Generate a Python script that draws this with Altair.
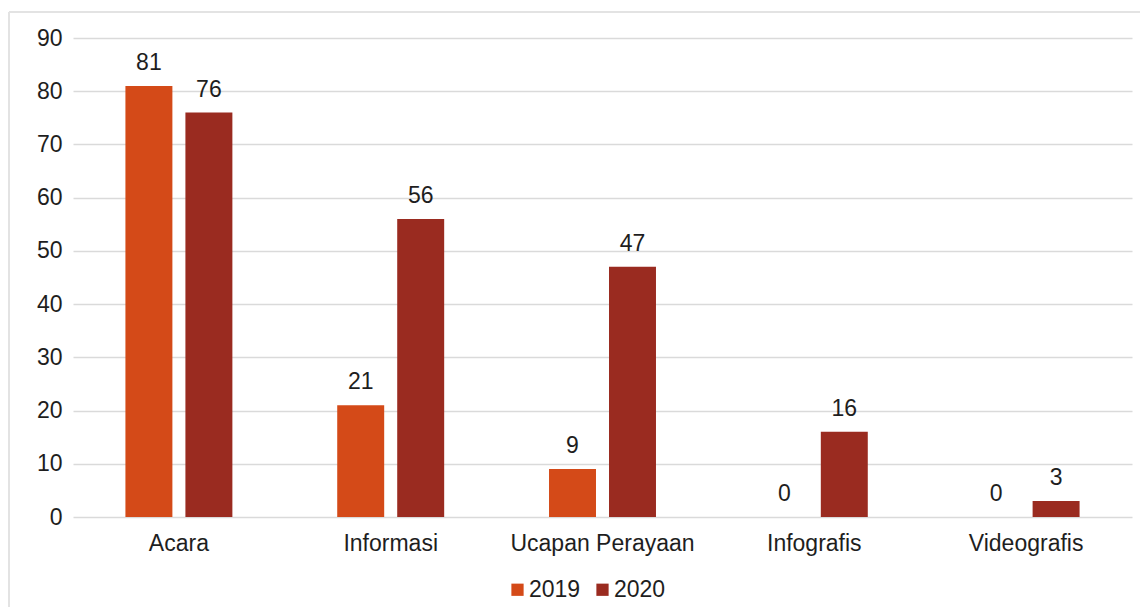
import altair as alt
import pandas as pd

categories = ["Acara", "Informasi", "Ucapan Perayaan", "Infografis", "Videografis"]
years = ["2019", "2020"]
values_2019 = [81, 21, 9, 0, 0]
values_2020 = [76, 56, 47, 16, 3]
colors = ["#D44A18", "#9A2B20"]
y_ticks = [0, 10, 20, 30, 40, 50, 60, 70, 80, 90]

rows = []
for c, a, b in zip(categories, values_2019, values_2020):
    rows.append({"Kategori": c, "Tahun": "2019", "Nilai": a})
    rows.append({"Kategori": c, "Tahun": "2020", "Nilai": b})
df = pd.DataFrame(rows)

FONT = "Liberation Sans"
FS = 23
TXT = "#1E1E1E"

x = alt.X("Kategori:N", sort=categories, title=None,
          scale=alt.Scale(paddingInner=0.495, paddingOuter=0.2475),
          axis=alt.Axis(labelAngle=0, domain=False, ticks=False, labelFontSize=FS,
                        labelColor=TXT, labelPadding=15, labelFont=FONT, labelLimit=0))
xo = alt.XOffset("Tahun:N", sort=years, scale=alt.Scale(paddingInner=0.217, paddingOuter=0))
y = alt.Y("Nilai:Q", title=None,
          scale=alt.Scale(domain=[0, 90], nice=False),
          axis=alt.Axis(values=y_ticks, domain=False, ticks=False, labelFontSize=FS,
                        labelColor=TXT, labelPadding=11, labelFont=FONT,
                        gridColor="#DADADA", gridWidth=1.6))

bars = alt.Chart(df).mark_bar().encode(
    x=x, xOffset=xo, y=y,
    color=alt.Color("Tahun:N", sort=years, scale=alt.Scale(domain=years, range=colors),
                    legend=alt.Legend(title=None, orient="none", legendX=433, legendY=540,
                                      direction="horizontal", symbolType="square",
                                      symbolSize=150, labelFontSize=FS, labelFont=FONT,
                                      labelColor=TXT, columnPadding=10,
                                      labelOffset=0, symbolStrokeWidth=0)),
)

labels = alt.Chart(df).mark_text(baseline="alphabetic", dy=-16, fontSize=FS, font=FONT,
                                 color=TXT).encode(
    x=alt.X("Kategori:N", sort=categories), xOffset=alt.XOffset("Tahun:N", sort=years),
    y="Nilai:Q", text="Nilai:Q")

frame_left = alt.Chart(df).mark_rule(color="#E3E3E3", strokeWidth=2).encode(
    x=alt.value(-64), y=alt.value(-26), y2=alt.value(620))
frame_top = alt.Chart(df).mark_rule(color="#E3E3E3", strokeWidth=2).encode(
    x=alt.value(-64), x2=alt.value(1090), y=alt.value(-26))

chart = alt.layer(bars, labels, frame_left, frame_top).properties(
    width=1059, height=479,
    autosize=alt.AutoSizeParams(type="none"),
    padding={"left": 65, "top": 30, "right": 8, "bottom": 90},
).configure_view(stroke=None)

chart.save("out.html", embed_options={"renderer": "svg", "actions": False})
